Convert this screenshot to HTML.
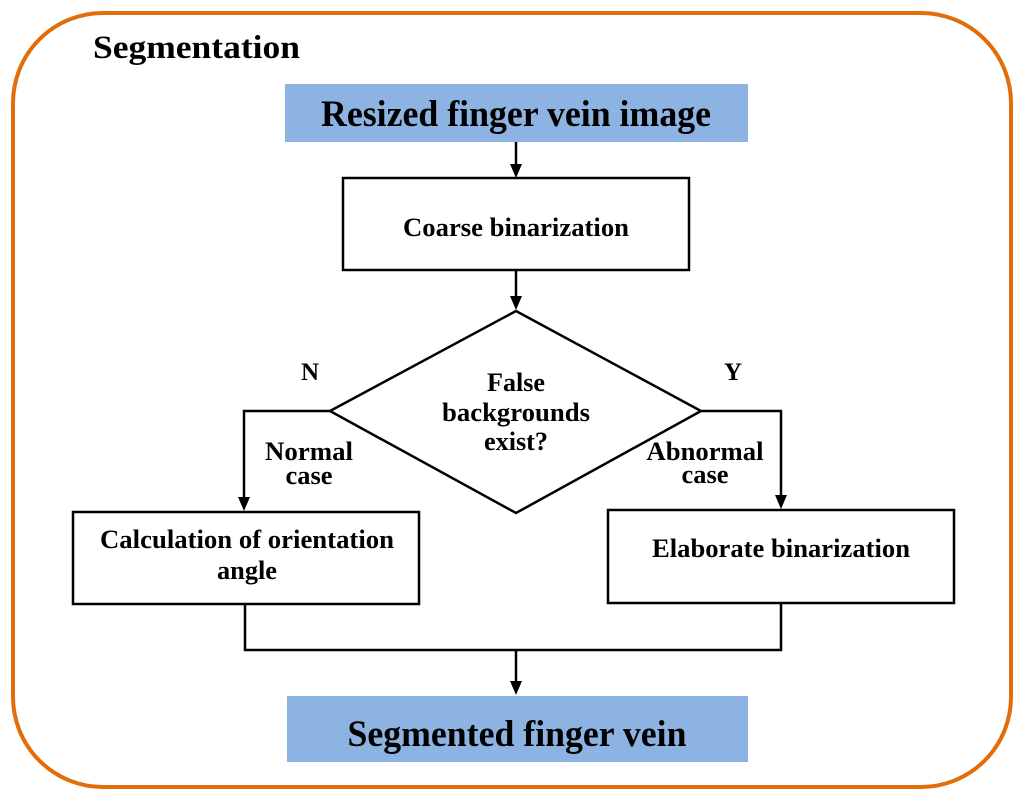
<!DOCTYPE html>
<html><head><meta charset="utf-8"><style>
html,body{margin:0;padding:0;background:#fff;}
svg{display:block;}
text{font-family:"Liberation Serif",serif;font-weight:bold;fill:#000;}
</style></head><body>
<svg width="1024" height="800" viewBox="0 0 1024 800">
<rect x="13" y="13" width="998" height="774" rx="90" ry="90" fill="#fff" stroke="#E36C0A" stroke-width="4"/>
<text x="93" y="58" font-size="33" textLength="207" lengthAdjust="spacingAndGlyphs">Segmentation</text>
<rect x="285" y="84" width="463" height="58" fill="#8DB3E2"/>
<text x="516" y="126" font-size="37" text-anchor="middle" textLength="390" lengthAdjust="spacingAndGlyphs">Resized finger vein image</text>
<g stroke="#000" stroke-width="2.5" fill="none">
<line x1="516" y1="142" x2="516" y2="168"/>
<rect x="343" y="178" width="346" height="92" fill="#fff"/>
<line x1="516" y1="270" x2="516" y2="300"/>
<polygon points="516,311 701,411 516,513 330,411" fill="#fff"/>
<polyline points="330,411 244,411 244,500"/>
<polyline points="701,411 781,411 781,498"/>
<rect x="73" y="512" width="346" height="92" fill="#fff"/>
<rect x="608" y="510" width="346" height="93" fill="#fff"/>
<polyline points="245,604 245,650 781,650 781,603"/>
<line x1="516" y1="650" x2="516" y2="684"/>
</g>
<g fill="#000">
<polygon points="510,164 522,164 516,178"/>
<polygon points="510,296 522,296 516,310"/>
<polygon points="238,497 250,497 244,511"/>
<polygon points="775,495 787,495 781,509"/>
<polygon points="510,681 522,681 516,695"/>
</g>
<text x="516" y="236" font-size="26" text-anchor="middle" textLength="226" lengthAdjust="spacingAndGlyphs">Coarse binarization</text>
<text x="516" y="391" font-size="26" text-anchor="middle" textLength="58" lengthAdjust="spacingAndGlyphs">False</text>
<text x="516" y="421" font-size="26" text-anchor="middle" textLength="148" lengthAdjust="spacingAndGlyphs">backgrounds</text>
<text x="516" y="450" font-size="26" text-anchor="middle" textLength="64" lengthAdjust="spacingAndGlyphs">exist?</text>
<text x="310" y="380" font-size="25" text-anchor="middle">N</text>
<text x="733" y="380" font-size="25" text-anchor="middle">Y</text>
<text x="309" y="460" font-size="26" text-anchor="middle" textLength="88" lengthAdjust="spacingAndGlyphs">Normal</text>
<text x="309" y="484" font-size="26" text-anchor="middle" textLength="47" lengthAdjust="spacingAndGlyphs">case</text>
<text x="705" y="460" font-size="26" text-anchor="middle" textLength="117" lengthAdjust="spacingAndGlyphs">Abnormal</text>
<text x="705" y="483" font-size="26" text-anchor="middle" textLength="47" lengthAdjust="spacingAndGlyphs">case</text>
<text x="247" y="548" font-size="26" text-anchor="middle" textLength="294" lengthAdjust="spacingAndGlyphs">Calculation of orientation</text>
<text x="247" y="579" font-size="26" text-anchor="middle" textLength="60" lengthAdjust="spacingAndGlyphs">angle</text>
<text x="781" y="557" font-size="26" text-anchor="middle" textLength="258" lengthAdjust="spacingAndGlyphs">Elaborate binarization</text>
<rect x="287" y="696" width="461" height="66" fill="#8DB3E2"/>
<text x="517" y="746" font-size="37" text-anchor="middle" textLength="339" lengthAdjust="spacingAndGlyphs">Segmented finger vein</text>
</svg>
</body></html>
